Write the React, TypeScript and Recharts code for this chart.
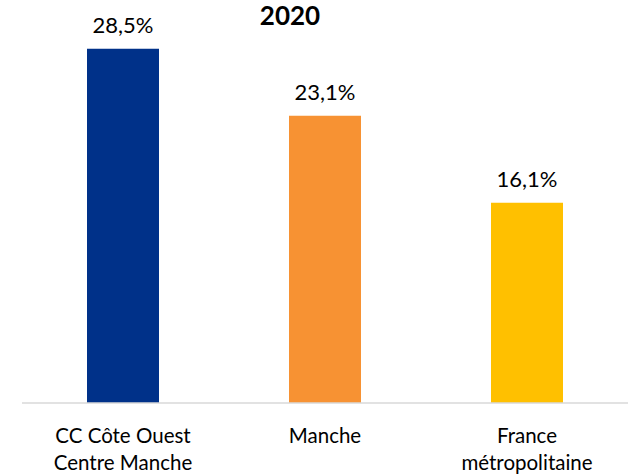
import { BarChart, Bar, XAxis, YAxis, Cell, LabelList } from 'recharts'

const categories = ['CC Côte Ouest\nCentre Manche', 'Manche', 'France\nmétropolitaine']
const values = [28.5, 23.1, 16.1]
const colors = ['#003189', '#F79233', '#FFC000']

const data = categories.map((name, i) => ({ name, value: values[i] }))

const FONT = 'Lato, "Open Sans", sans-serif'

function CategoryTick({ x, y, payload }: { x?: number; y?: number; payload?: { value: string } }) {
  const lines = (payload?.value ?? '').split('\n')
  return (
    <text x={x} y={(y ?? 0) + 32} textAnchor="middle" fill="#000" fontSize={20.5} fontFamily={FONT}>
      {lines.map((l, i) => (
        <tspan key={i} x={x} dy={i === 0 ? 0 : 27}>
          {l}
        </tspan>
      ))}
    </text>
  )
}

export default function App() {
  return (
    <div style={{ position: 'absolute', left: 0, top: 0, width: 634, height: 474, background: '#fff' }}>
      <div
        style={{
          position: 'absolute',
          left: 0,
          width: 580,
          top: 0,
          textAlign: 'center',
          fontFamily: FONT,
          fontWeight: 700,
          fontSize: 26,
          lineHeight: '30px',
          color: '#000',
        }}
      >
        2020
      </div>
      <BarChart width={634} height={474} data={data} margin={{ top: 30, right: 6, left: 22, bottom: 0 }}>
        <XAxis
          dataKey="name"
          axisLine={{ stroke: '#d9d9d9', strokeWidth: 1.5 }}
          tickLine={false}
          height={71}
          interval={0}
          tick={<CategoryTick />}
        />
        <YAxis hide domain={[0, 30]} />
        <Bar dataKey="value" barSize={72} isAnimationActive={false}>
          {data.map((d, i) => (
            <Cell key={d.name} fill={colors[i]} />
          ))}
          <LabelList
            dataKey="value"
            position="top"
            offset={16}
            formatter={(v: number) => `${v.toFixed(1).replace('.', ',')}%`}
            style={{ fontSize: 22, fontFamily: FONT, fill: '#000' }}
          />
        </Bar>
      </BarChart>
    </div>
  )
}
